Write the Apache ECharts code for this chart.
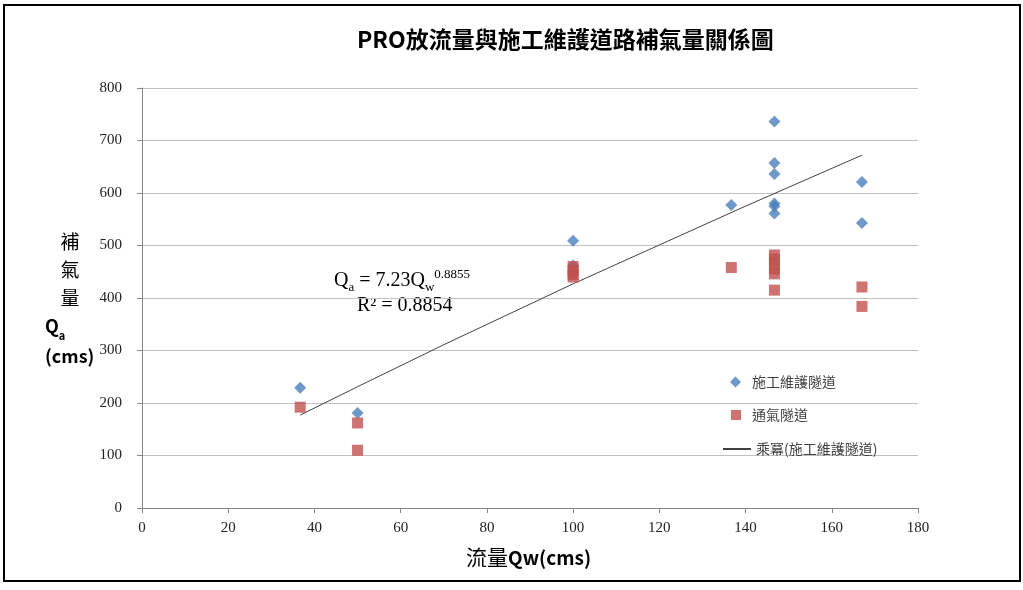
<!DOCTYPE html>
<html>
<head>
<meta charset="utf-8">
<script src="https://cdn.jsdelivr.net/npm/echarts@6/dist/echarts.min.js"></script>
<style>
html,body{margin:0;padding:0;background:#fff;}
#chart1{width:1023px;height:590px;}
</style>
</head>
<body>
<div id="chart1"></div>
<script>
// 施工維護隧道 (diamonds)
var maintX = [36.7, 50, 100, 100, 136.7, 146.7, 146.7, 146.7, 146.7, 146.7, 146.7, 167, 167];
var maintY = [229, 181, 509, 462, 577, 736, 657, 636, 580, 575, 561, 621, 543];
// 通氣隧道 (squares)
var ventX = [36.7, 50, 50, 100, 100, 100, 100, 136.7, 146.7, 146.7, 146.7, 146.7, 146.7, 146.7, 167, 167];
var ventY = [192, 162, 110, 460, 452, 445, 440, 458, 482, 474, 465, 455, 446, 415, 421, 384];
// 乘冪趨勢線
var trendX = [36.7, 50, 70, 100, 120, 140, 167];
var trendY = [177, 231, 311, 427, 501, 575, 672];

var names = ['施工維護隧道', '通氣隧道', '乘冪(施工維護隧道)'];

function pairs(xs, ys){
	var out = [];
	for (var i = 0; i < xs.length; i++) out.push([xs[i], ys[i]]);
	return out;
}

(function(){
var chart1 = echarts.init(document.getElementById("chart1"));
var cjk = '"Noto Sans CJK TC", "Noto Sans CJK SC", sans-serif';
var serif = '"Liberation Serif", "DejaVu Serif", serif';

var legendText = {fontFamily: cjk, fontSize: 14, color: '#404040', padding: [0, 0, 0, 6]};

option = {
	animation: false,
	title: {
		text: 'PRO放流量與施工維護道路補氣量關係圖',
		left: 352,
		top: 23,
		textStyle: {fontFamily: cjk, fontSize: 23, fontWeight: 'bold', color: '#000'}
	},
	legend: [
		{data: [{name: names[0], icon: 'diamond'}], left: 725, top: 370, itemWidth: 11, itemHeight: 11,
			textStyle: legendText},
		{data: [{name: names[1], icon: 'rect'}], left: 726, top: 403, itemWidth: 10, itemHeight: 10,
			textStyle: legendText},
		{data: [{name: names[2]}], left: 717, top: 437, itemWidth: 28, itemHeight: 2,
			textStyle: {fontFamily: cjk, fontSize: 14, color: '#404040'}}
	],
	grid: {left: 142, right: 105, top: 88, bottom: 82},
	xAxis: {
		type: 'value', min: 0, max: 180, interval: 20,
		splitLine: {show: false},
		axisLine: {lineStyle: {color: '#868686'}},
		axisTick: {length: 5, lineStyle: {color: '#868686'}},
		axisLabel: {fontFamily: serif, fontSize: 15, color: '#222', margin: 13}
	},
	yAxis: {
		type: 'value', min: 0, max: 800, interval: 100,
		splitLine: {lineStyle: {color: '#c0c0c0'}},
		axisLine: {show: true, lineStyle: {color: '#868686'}},
		axisTick: {show: true, length: 5, lineStyle: {color: '#868686'}},
		axisLabel: {fontFamily: serif, fontSize: 15, color: '#222', margin: 20}
	},
	series: [
		{
			name: names[0], type: 'scatter', symbol: 'diamond', symbolSize: 12,
			itemStyle: {color: '#4a7ebb'},
			data: pairs(maintX, maintY)
		},
		{
			name: names[1], type: 'scatter', symbol: 'rect', symbolSize: 11,
			itemStyle: {color: '#c0504d'},
			data: pairs(ventX, ventY)
		},
		{
			name: names[2], type: 'line', symbol: 'none', z: 1,
			lineStyle: {color: '#404040', width: 1},
			itemStyle: {color: '#404040'},
			data: pairs(trendX, trendY)
		}
	],
	graphic: [
		{
			type: 'rect', shape: {x: 4, y: 5, width: 1016, height: 576},
			style: {fill: 'none', stroke: '#000', lineWidth: 2}, silent: true
		},
		{
			type: 'text', left: 45, top: 232,
			style: {
				text: '{c|補}\n{c|氣}\n{c|量}\n{q|Q}{s|a}\n{q|(cms)}',
				align: 'center',
				rich: {
					c: {fontFamily: cjk, fontSize: 19, color: '#000', lineHeight: 28, width: 50, align: 'center'},
					q: {fontFamily: cjk, fontSize: 18, fontWeight: 'bold', color: '#000', lineHeight: 30},
					s: {fontFamily: cjk, fontSize: 11, fontWeight: 'bold', color: '#000', verticalAlign: 'bottom', lineHeight: 30}
				}
			}
		},
		{
			type: 'text', left: 334, top: 268,
			style: {
				text: '{m|Q}{sub|a}{m| = 7.23Q}{sub|w}{sup|0.8855}',
				rich: {
					m: {fontFamily: serif, fontSize: 20, color: '#000', lineHeight: 26},
					sub: {fontFamily: serif, fontSize: 13, color: '#000', verticalAlign: 'bottom', lineHeight: 26},
					sup: {fontFamily: serif, fontSize: 13, color: '#000', verticalAlign: 'top', lineHeight: 26}
				}
			}
		},
		{
			type: 'text', left: 357, top: 296,
			style: {text: 'R² = 0.8854', fontFamily: serif, fontSize: 20, fill: '#000'}
		},
		{
			type: 'text', left: 466, top: 547,
			style: {
				text: '{c|流量}{q|Qw(cms)}',
				rich: {
					c: {fontFamily: cjk, fontSize: 21, color: '#000'},
					q: {fontFamily: cjk, fontSize: 19, fontWeight: 'bold', color: '#000'}
				}
			}
		}
	]
};

chart1.setOption(option);
})();
</script>
</body>
</html>
